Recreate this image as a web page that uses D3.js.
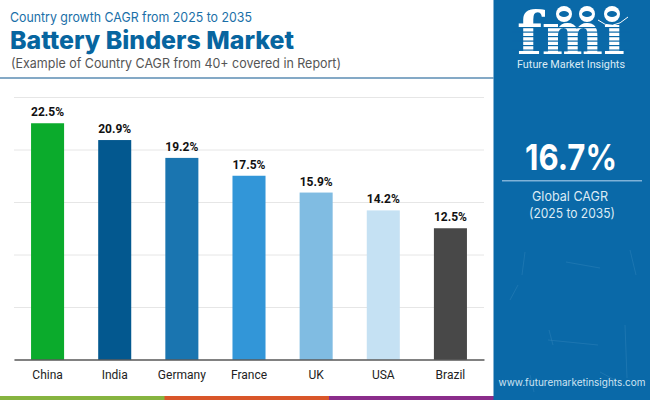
<!DOCTYPE html>
<html>
<head>
<meta charset="utf-8">
<script src="https://cdn.jsdelivr.net/npm/d3@7"></script>
<style>
  html, body { margin: 0; padding: 0; background: #fff; }
  svg { display: block; }
</style>
</head>
<body>
<script>
const countries = ["China", "India", "Germany", "France", "UK", "USA", "Brazil"];
const cagrValues = [22.5, 20.9, 19.2, 17.5, 15.9, 14.2, 12.5];
const barColors = ["#0bab2c", "#03588f", "#1a75b0", "#3296d8", "#80bce2", "#c5e1f3", "#484848"];
const gridTicks = [0, 5, 10, 15, 20, 25];
const footerColors = ["#86b440", "#d9562a", "#8b2d8b"];

const width = 650;
const height = 400;
const panelX = 493.5;
const panelBlue = '#0a69a8';
const margin = { top: 97, bottom: 40.5, left: 14, right: 166 };

const svg = d3.select('body').append('svg')
  .attr('width', width)
  .attr('height', height);

const x = d3.scaleBand()
  .domain(countries)
  .range([margin.left, width - margin.right])
  .paddingInner(0.508)
  .paddingOuter(0.254);

const y = d3.scaleLinear()
  .domain([0, 25])
  .range([height - margin.bottom, margin.top]);

const addText = (parent, str, px, py, size, fill, weight, family, anchor) =>
  parent.append('text')
    .attr('x', px).attr('y', py)
    .attr('font-size', size)
    .attr('fill', fill)
    .attr('font-weight', weight || 400)
    .attr('font-family', family || 'Inter, sans-serif')
    .attr('text-anchor', anchor || 'start')
    .text(str);

// stretch a text to the width measured on the picture
const fit = (sel, w) => sel.attr('textLength', w).attr('lengthAdjust', 'spacingAndGlyphs');

// header
fit(addText(svg, "Country growth CAGR from 2025 to 2035", 10, 22, 13.5, "#1a6fa8"), 242);
fit(addText(svg, "Battery Binders Market", 10, 49, 24.5, "#07659f", 800), 284);
fit(addText(svg, "(Example of Country CAGR from 40+ covered in Report)", 11, 68, 13.5, "#555"), 330);
svg.append('rect').attr('x', 0).attr('y', 77).attr('width', panelX).attr('height', 2).attr('fill', '#84a9c6');

// grid lines
svg.append('g')
  .attr('transform', `translate(${margin.left}, 0)`)
  .call(d3.axisLeft(y).tickValues(gridTicks).tickSize(-(width - margin.left - margin.right)).tickFormat(''))
  .call(g => g.select('.domain').remove())
  .call(g => g.selectAll('.tick line').attr('stroke', '#e6e6e6').attr('stroke-width', 1));

// bars
svg.selectAll('rect.bar').data(countries)
  .join('rect')
  .attr('class', 'bar')
  .attr('x', d => x(d))
  .attr('y', (d, i) => y(cagrValues[i]))
  .attr('width', x.bandwidth())
  .attr('height', (d, i) => y(0) - y(cagrValues[i]))
  .attr('fill', (d, i) => barColors[i]);

// value labels
svg.selectAll('text.value').data(countries)
  .join('text')
  .attr('class', 'value')
  .attr('x', d => x(d) + x.bandwidth() / 2)
  .attr('y', (d, i) => y(cagrValues[i]) - 7)
  .attr('text-anchor', 'middle')
  .attr('font-family', 'Roboto, sans-serif')
  .attr('font-weight', 700)
  .attr('font-size', 12)
  .attr('fill', '#111')
  .text((d, i) => cagrValues[i].toFixed(1) + '%');

// x axis
const xAxis = svg.append('g')
  .attr('transform', `translate(0, ${y(0)})`)
  .call(d3.axisBottom(x).tickSize(0).tickPadding(11));
xAxis.select('.domain').attr('stroke', '#111').attr('stroke-width', 1.2);
xAxis.selectAll('text')
  .attr('font-family', 'Roboto, sans-serif')
  .attr('font-size', 12)
  .attr('fill', '#222');

// footer strip
footerColors.forEach((c, i) => {
  svg.append('rect')
    .attr('x', i * panelX / 3).attr('y', 396)
    .attr('width', panelX / 3 + 1).attr('height', 4)
    .attr('fill', c);
});

// right panel
svg.append('rect')
  .attr('x', panelX).attr('y', 0)
  .attr('width', width - panelX).attr('height', height)
  .attr('fill', panelBlue);

// faint scratches on the panel
const scratches = [
  [525, 252, 522, 275], [549, 330, 553, 345], [566, 262, 600, 268],
  [625, 325, 627, 378], [548, 340, 598, 345], [530, 375, 534, 392],
  [600, 372, 615, 380], [510, 300, 518, 285], [630, 250, 636, 275]
];
svg.append('g').selectAll('line').data(scratches)
  .join('line')
  .attr('x1', d => d[0]).attr('y1', d => d[1])
  .attr('x2', d => d[2]).attr('y2', d => d[3])
  .attr('stroke', '#3d8cc0').attr('stroke-width', 0.7).attr('opacity', 0.5);

// logo: striped letters, the globes sit on top of the i dot
const logo = svg.append('g');
fit(addText(logo, "fmi", 517, 55, 60, "#fff", 700, '"DejaVu Serif", serif'), 108);
d3.range(27, 55, 4.5).forEach(ly => {
  logo.append('rect').attr('x', 512).attr('y', ly).attr('width', 118).attr('height', 1.2).attr('fill', panelBlue);
});
logo.append('rect').attr('x', 600).attr('y', 4).attr('width', 26).attr('height', 21).attr('fill', panelBlue);
[[564, 14], [587, 14], [612, 14]].forEach(c => {
  logo.append('circle').attr('cx', c[0]).attr('cy', c[1]).attr('r', 8).attr('fill', '#fff');
  logo.append('ellipse').attr('cx', c[0]).attr('cy', c[1]).attr('rx', 5).attr('ry', 3).attr('fill', panelBlue);
});
logo.append('path').attr('d', 'M598 20 Q612 32 628 17').attr('fill', 'none').attr('stroke', '#fff').attr('stroke-width', 1);
fit(addText(logo, "Future Market Insights", 517, 68, 11, "#dcebf5", 400, 'Roboto, sans-serif'), 108);

// global CAGR
fit(addText(svg, "16.7%", 571, 170, 36, "#fff", 700, 'Inter, sans-serif', 'middle'), 92);
svg.append('rect').attr('x', 502).attr('y', 180).attr('width', 140).attr('height', 1.5).attr('fill', '#7fb2d8');
fit(addText(svg, "Global CAGR", 570, 201, 13.5, "#dcebf5", 400, 'Inter, sans-serif', 'middle'), 76);
fit(addText(svg, "(2025 to 2035)", 572, 218, 13.5, "#dcebf5", 400, 'Inter, sans-serif', 'middle'), 86);
fit(addText(svg, "www.futuremarketinsights.com", 572, 386, 10, "#cfe4f3", 400, 'Inter, sans-serif', 'middle'), 147);
</script>
</body>
</html>
